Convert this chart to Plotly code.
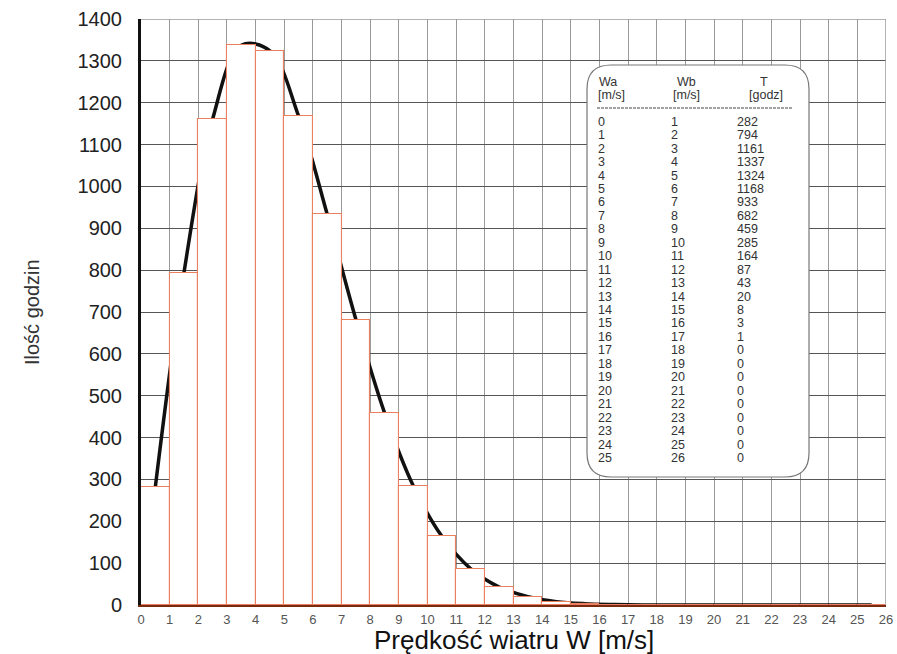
import plotly.graph_objects as go

# ---- data ----
wa = list(range(0, 26))
wb = list(range(1, 27))
hours = [282, 794, 1161, 1337, 1324, 1168, 933, 682, 459, 285, 164, 87, 43, 20, 8, 3, 1,
         0, 0, 0, 0, 0, 0, 0, 0, 0]
x_ticks = list(range(0, 27))
y_ticks = list(range(0, 1401, 100))

mid = [(a + b) / 2 for a, b in zip(wa, wb)]

fig = go.Figure()

# smooth curve (drawn below the bars)
fig.add_trace(go.Scatter(x=mid, y=hours, mode="lines",
                         line=dict(color="#111111", width=3.5, shape="spline", smoothing=1.0),
                         xaxis="x", yaxis="y", showlegend=False, hoverinfo="skip"))

# histogram bars on an overlay subplot so they cover the curve
fig.add_trace(go.Bar(x=mid, y=hours, width=1,
                     marker=dict(color="white", line=dict(color="#ea8060", width=1.1)),
                     xaxis="x2", yaxis="y2", showlegend=False))

font_main = "Liberation Sans, Arial, sans-serif"

fig.update_layout(
    width=897, height=654,
    margin=dict(l=141, r=11, t=19, b=49, autoexpand=False),
    paper_bgcolor="white", plot_bgcolor="white",
    xaxis=dict(range=[0, 26], tickmode="array", tickvals=x_ticks,
               ticktext=[str(v) for v in x_ticks], automargin=False,
               showgrid=True, gridcolor="#9a9a9a", gridwidth=1,
               zeroline=False, showline=True, linecolor="#7a2a10", linewidth=2,
               ticks="", ticklabelstandoff=1,
               tickfont=dict(family=font_main, size=13, color="#555555")),
    yaxis=dict(range=[0, 1400], tickmode="array", tickvals=y_ticks, automargin=False,
               showgrid=True, gridcolor="#555555", gridwidth=1,
               zeroline=False, showline=True, linecolor="#111111", linewidth=3,
               ticks="", ticklabelstandoff=12,
               tickfont=dict(family=font_main, size=20, color="#222222")),
    xaxis2=dict(range=[0, 26], overlaying="x", visible=False),
    yaxis2=dict(range=[0, 1400], overlaying="y", visible=False),
    bargap=0,
)

# axis titles
fig.add_annotation(x=0.5, y=0, xref="paper", yref="paper", yshift=-35, xshift=0,
                   text="Prędkość wiatru W [m/s]", showarrow=False,
                   xanchor="center", yanchor="middle",
                   font=dict(family=font_main, size=26, color="#111111"))
fig.add_annotation(x=0, y=0.5, xref="paper", yref="paper", xshift=-109,
                   text="Ilość godzin", showarrow=False, textangle=-90,
                   xanchor="center", yanchor="middle",
                   font=dict(family=font_main, size=20, color="#333333"))

# frame lines top and right
fig.add_shape(type="line", xref="x", yref="y", x0=0, x1=26, y0=1400, y1=1400,
              line=dict(color="#9a9a9a", width=1.5), layer="above")
fig.add_shape(type="line", xref="x", yref="y", x0=26, x1=26, y0=0, y1=1400,
              line=dict(color="#9a9a9a", width=1.5), layer="above")

# ---- table box (pixel helpers) ----
def px_x(p):
    return (p - 141) / (886 - 141) * 26

def px_y(p):
    return (605 - p) / (605 - 19) * 1400

bx0, bx1, by0, by1, r = 587, 809, 65, 477, 24
path = (f"M {px_x(bx0 + r)} {px_y(by0)} L {px_x(bx1 - r)} {px_y(by0)} "
        f"Q {px_x(bx1)} {px_y(by0)} {px_x(bx1)} {px_y(by0 + r)} "
        f"L {px_x(bx1)} {px_y(by1 - r)} "
        f"Q {px_x(bx1)} {px_y(by1)} {px_x(bx1 - r)} {px_y(by1)} "
        f"L {px_x(bx0 + r)} {px_y(by1)} "
        f"Q {px_x(bx0)} {px_y(by1)} {px_x(bx0)} {px_y(by1 - r)} "
        f"L {px_x(bx0)} {px_y(by0 + r)} "
        f"Q {px_x(bx0)} {px_y(by0)} {px_x(bx0 + r)} {px_y(by0)} Z")
fig.add_shape(type="path", xref="x", yref="y", path=path,
              fillcolor="white", line=dict(color="#777777", width=1.2), layer="above")

# dashed separator
fig.add_shape(type="line", xref="x", yref="y", x0=px_x(597), x1=px_x(792),
              y0=px_y(108), y1=px_y(108),
              line=dict(color="#444444", width=1, dash="3px,1px"), layer="above")

tfont = dict(family=font_main, size=12.5, color="#333333")

def add_txt(x, y, text, anchor="left"):
    fig.add_annotation(x=px_x(x), y=px_y(y), xref="x", yref="y", text=text,
                       showarrow=False, xanchor=anchor, yanchor="middle", font=tfont,
                       borderpad=0)

# header
add_txt(598, 82, "Wa")
add_txt(597, 95, "[m/s]")
add_txt(686, 82, "Wb", "center")
add_txt(686, 95, "[m/s]", "center")
add_txt(764, 82, "T", "center")
add_txt(766, 95, "[godz]", "center")

row0, step = 121.7, 13.45
for i, (a, b, t) in enumerate(zip(wa, wb, hours)):
    yy = row0 + i * step
    add_txt(597, yy, str(a))
    add_txt(670, yy, str(b))
    add_txt(736, yy, str(t))

fig.write_html("out.html", config={"displayModeBar": False},
               post_script="document.body.style.margin='0';document.body.style.overflow='hidden';")
